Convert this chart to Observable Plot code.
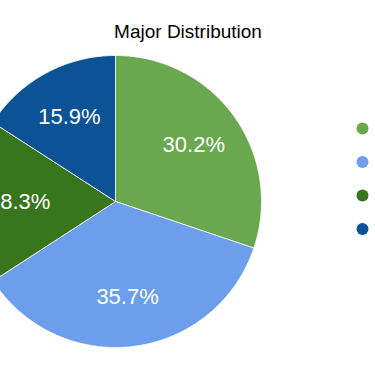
<!DOCTYPE html>
<html>
<head>
<meta charset="utf-8">
<script src="https://cdn.jsdelivr.net/npm/d3@7"></script>
<script src="https://cdn.jsdelivr.net/npm/@observablehq/plot@0.6"></script>
<style>
  html, body { margin: 0; padding: 0; background: #fff; }
  #chart { width: 375px; height: 366px; overflow: hidden; }
</style>
</head>
<body>
<div id="chart"></div>
<script>
// ---- data ----
const title = "Major Distribution";
const categories = ["Major A", "Major B", "Major C", "Major D"];
const values = [30.2, 35.7, 18.3, 15.9];
const labels = ["30.2%", "35.7%", "18.3%", "15.9%"];
const colors = ["#6aa84f", "#6d9eeb", "#38761d", "#0b5394"];

// ---- layout ----
const W = 375, H = 366;
const cx = 115, cy = 201, R = 146;   // pie centre and radius in pixels
const labelR = 0.66;                 // label distance (fraction of radius)

const arcs = d3.pie().sort(null).value(d => d)(values);

// polygon vertices of each slice, in unit-radius coordinates (y up)
const rows = [];
arcs.forEach((a, i) => {
  const cat = categories[i];
  rows.push({cat, x: 0, y: 0});
  const n = Math.max(2, Math.ceil((a.endAngle - a.startAngle) / 0.01));
  for (let k = 0; k <= n; k++) {
    const t = a.startAngle + (a.endAngle - a.startAngle) * k / n;
    rows.push({cat, x: Math.sin(t), y: Math.cos(t)});
  }
  rows.push({cat, x: 0, y: 0});
});

const labelRows = arcs.map((a, i) => {
  const m = (a.startAngle + a.endAngle) / 2;
  return {cat: categories[i], text: labels[i], x: labelR * Math.sin(m), y: labelR * Math.cos(m)};
});

const font = "Arial, 'Liberation Sans', sans-serif";

const chart = Plot.plot({
  width: W,
  height: H,
  margin: 0,
  style: {fontFamily: font, background: "#fff", overflow: "hidden"},
  x: {domain: [-cx / R, (W - cx) / R], axis: null},
  y: {domain: [-(H - cy) / R, cy / R], axis: null},
  color: {type: "ordinal", domain: categories, range: colors},
  marks: [
    Plot.line(rows, {x: "x", y: "y", z: "cat", fill: "cat", stroke: "white", strokeWidth: 0.8, strokeLinejoin: "round"}),
    Plot.text(labelRows, {x: "x", y: "y", text: "text", fill: "white", fontSize: 22, lineAnchor: "middle", fontFamily: font}),
    Plot.text([title], {frameAnchor: "top", dy: 31, lineAnchor: "middle", fontSize: 19, fill: "#000", fontFamily: font}),
    ...categories.map((c, i) =>
      Plot.dot([c], {frameAnchor: "top-right", dx: -13, dy: 128 + i * 33.5, r: 6, fill: colors[i], stroke: null, title: d => d})
    )
  ]
});

document.getElementById("chart").appendChild(chart);
</script>
</body>
</html>
